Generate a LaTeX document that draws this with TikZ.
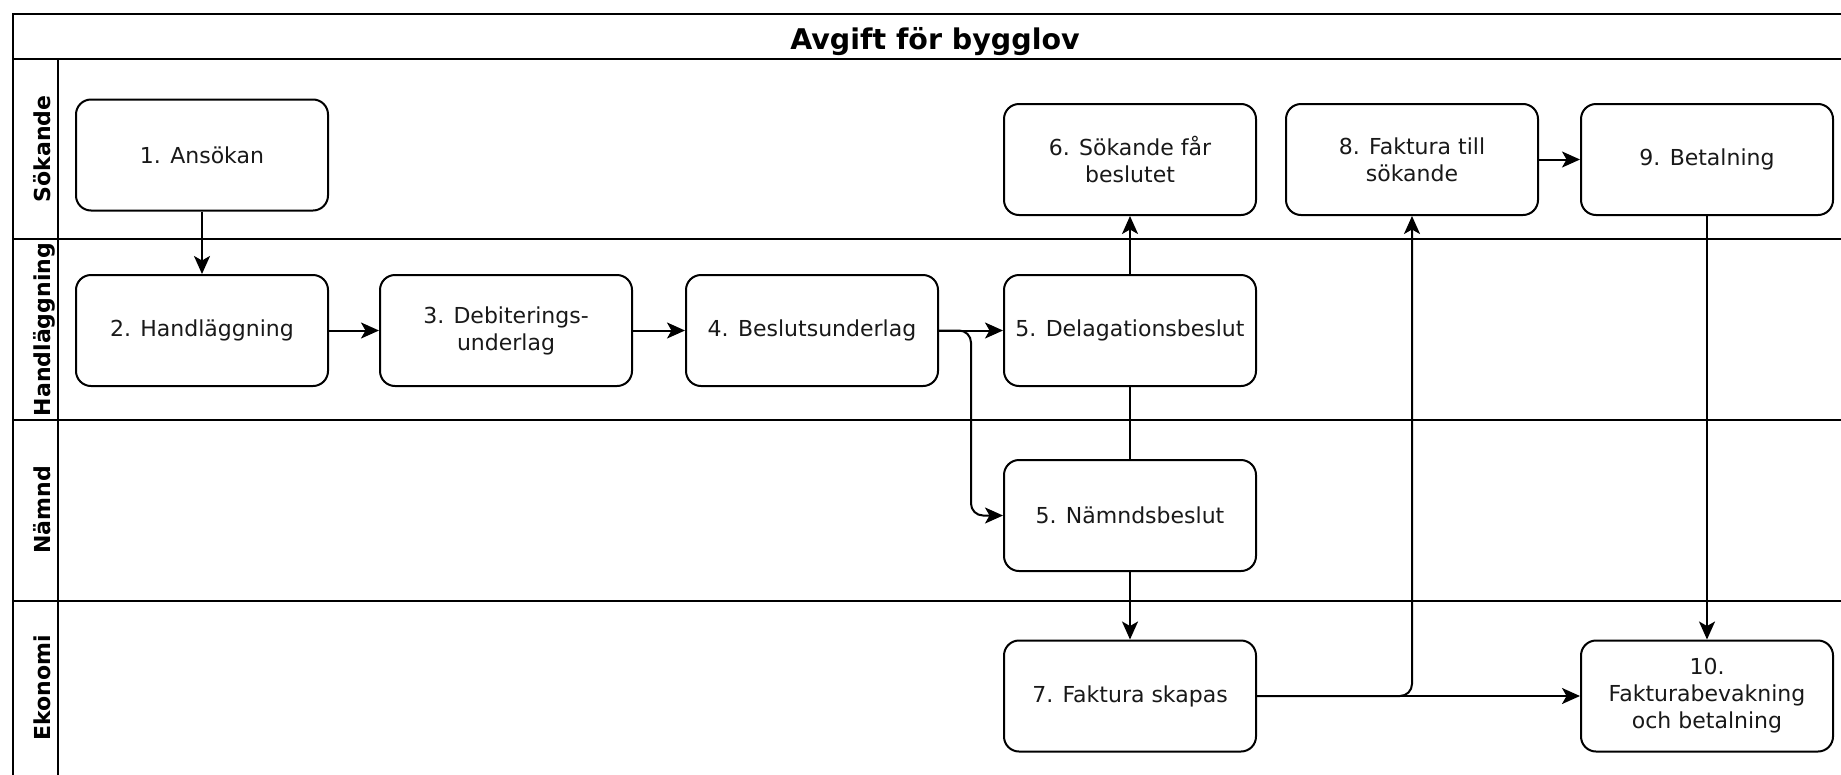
\documentclass[tikz,border=0pt]{standalone}
\usepackage{fontspec}
\setmainfont{DejaVu Sans}
\usetikzlibrary{arrows.meta,calc}
\begin{document}
\begin{tikzpicture}[x=1pt,y=-1pt,
  box/.style={draw=black, line width=2pt, rounded corners=15pt, fill=white,
    minimum width=252pt, minimum height=111pt, align=center, inner sep=2pt,
    font=\fontsize{22}{27}\selectfont, text=black!90},
  lanelabel/.style={rotate=90, anchor=base, inner sep=0pt,
    font=\bfseries\fontsize{22}{26}\selectfont},
  lane/.style={line width=2pt},
  arr/.style={line width=2pt, -{Stealth[length=18pt,width=16pt,inset=4.5pt]}},
  link/.style={line width=2pt}
]
\useasboundingbox (0,0) rectangle (1841,774);
\begin{scope}
\clip (0,0) rectangle (1841,774);
\draw[lane] (12.5,14) rectangle (1860,790);
\draw[lane] (12.5,59) -- (1860,59);
\draw[lane] (12.5,239) -- (1860,239);
\draw[lane] (12.5,420) -- (1860,420);
\draw[lane] (12.5,600.5) -- (1860,600.5);
\draw[lane] (58,59) -- (58,790);
\end{scope}

\node[anchor=base, inner sep=0pt, font=\bfseries\fontsize{28.5}{34}\selectfont] (title) at (935,49.5) {Avgift för bygglov};

\node[lanelabel] (l1) at (50,149) {Sökande};
\node[lanelabel] (l2) at (50,329.5) {Handläggning};
\node[lanelabel] (l3) at (50,510) {Nämnd};
\node[lanelabel] (l4) at (50,688) {Ekonomi};

\node[box] (b1) at (202,155) {1. Ansökan};
\node[box] (b2) at (202,330.5) {2. Handläggning};
\node[box] (b3) at (506,330.5) {3. Debiterings-\\underlag};
\node[box] (b4) at (812,330.5) {4. Beslutsunderlag};
\node[box] (b5d) at (1130,330.5) {5. Delagationsbeslut};
\node[box] (b6) at (1130,159.5) {6. Sökande får\\beslutet};
\node[box] (b8) at (1412,159.5) {8. Faktura till\\sökande};
\node[box] (b9) at (1707,159.5) {9. Betalning};
\node[box] (b5n) at (1130,515.5) {5. Nämndsbeslut};
\node[box] (b7) at (1130,696) {7. Faktura skapas};
\node[box] (b10) at (1707,696) {10.\\Fakturabevakning\\och betalning};

\draw[arr] (b1) -- (b2);
\draw[arr] (b2) -- (b3);
\draw[arr] (b3) -- (b4);
\draw[arr] (b4) -- (b5d);
\draw[arr, rounded corners=12pt] (b4.east) -- ($(b4.east)!.5!(b5d.west)$) |- (b5n.west);
\draw[arr] (b5d) -- (b6);
\draw[link] (b5d) -- (b5n);
\draw[arr] (b5n) -- (b7);
\draw[arr] (b7) -- (b10);
\draw[arr, rounded corners=12pt] (b7.east) -| (b8.south);
\draw[arr] (b8) -- (b9);
\draw[arr] (b9) -- (b10);
\end{tikzpicture}
\end{document}
